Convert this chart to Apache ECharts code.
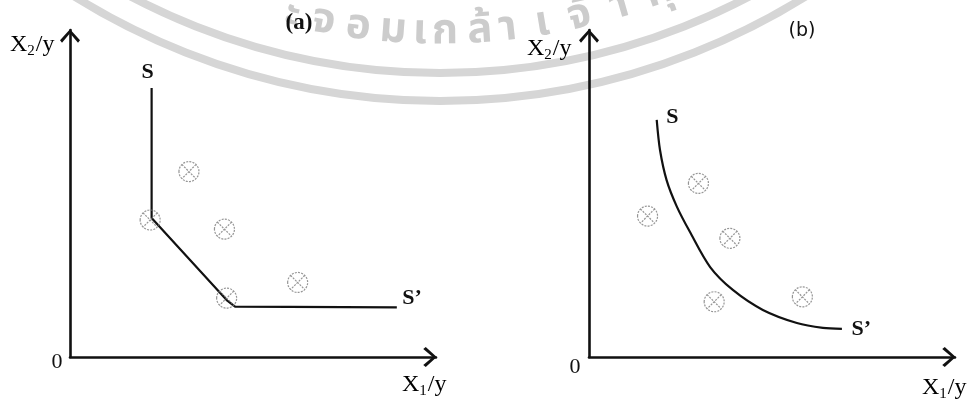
<!DOCTYPE html>
<html>
<head>
<meta charset="utf-8">
<script src="https://cdn.jsdelivr.net/npm/echarts@6/dist/echarts.min.js"></script>
<style>
  html, body { margin: 0; padding: 0; background: #fff; }
  #chart { width: 973px; height: 399px; }
</style>
</head>
<body>
<div id="chart"></div>
<script>
  // (a) piecewise linear frontier S-S' and the observed firms
  var frontierA = [[22.3, 82.3], [22.3, 42.5], [42.8, 17.4], [45.1, 15.4], [89.3, 15.2]]
  var firmsA = [[21.9, 41.9], [42.8, 18.0], [32.5, 56.7], [42.2, 39.1], [62.2, 22.8]]
  // (b) smooth frontier S-S' and the observed firms
  var frontierB = [[18.5, 72.5], [19.4, 63.3], [21.2, 54.1], [24.0, 46.0], [27.6, 38.2], [33.1, 27.5],
    [39.3, 20.5], [47.5, 14.4], [56.8, 10.4], [63.9, 8.9], [69.1, 8.6]]
  var firmsB = [[16.0, 43.1], [29.9, 53.1], [38.5, 36.3], [34.2, 16.9], [58.3, 18.4]]
  var endLabels = ['S', 'S’']
  var panelTitles = ['(a)', '(b)']
  // watermark (scan artefact)
  var wmChars = ['ะ', 'จ', 'อ', 'ม', 'เ', 'ก', 'ล้', 'า', 'เ', 'จ้', 'า', 'คุ']
  var wmX = [292, 323, 358, 393, 420, 445, 480, 508, 543, 580, 620, 660]

  var serif = 'Liberation Serif'
  var arrow = 'path://M10,0 L20,11 L18,13.5 L10,4 L2,13.5 L0,11 Z'
  var otimes = 'path://M0,10 A10,10 0 1,1 20,10 A10,10 0 1,1 0,10 Z M2.93,2.93 L17.07,17.07 M17.07,2.93 L2.93,17.07'

  function axis () {
    return {
      type: 'value',
      min: 0,
      max: 100,
      axisLine: {
        show: true,
        symbol: ['none', arrow],
        symbolSize: [20, 14],
        symbolOffset: [0, -6],
        lineStyle: { color: '#111', width: 2.6 }
      },
      axisTick: { show: false },
      axisLabel: { show: false },
      splitLine: { show: false }
    }
  }

  function frontier (data, idx, smooth, lbl) {
    var last = data.length - 1
    return {
      type: 'line',
      xAxisIndex: idx,
      yAxisIndex: idx,
      smooth: smooth,
      symbol: 'circle',
      symbolSize: 1,
      itemStyle: { color: 'rgba(0,0,0,0)' },
      lineStyle: { color: '#111', width: 2.2 },
      z: 3,
      data: data.map(function (d, i) {
        var item = { value: d }
        if (i === 0) item.label = Object.assign({ show: true, formatter: endLabels[0] }, lbl[0])
        if (i === last) item.label = Object.assign({ show: true, formatter: endLabels[1] }, lbl[1])
        return item
      }),
      label: { color: '#111', fontFamily: serif, fontWeight: 'bold', fontSize: 22 }
    }
  }

  function firms (data, idx) {
    return {
      type: 'scatter',
      xAxisIndex: idx,
      yAxisIndex: idx,
      symbol: otimes,
      symbolSize: 20,
      itemStyle: { color: 'rgba(255,255,255,0)', borderColor: '#7a7a7a', borderWidth: 1.2, borderType: [2, 1.2] },
      z: 4,
      data: data
    }
  }

  function axisName (sub, x, y) {
    return {
      type: 'text',
      x: x,
      y: y,
      z: 100,
      style: {
        text: '{m|X}{s|' + sub + '}{m|/y}',
        align: 'left',
        verticalAlign: 'middle',
        rich: {
          m: { fontFamily: serif, fontSize: 24, color: '#111' },
          s: { fontFamily: serif, fontSize: 15, color: '#111', padding: [13, 1, 0, 0] }
        }
      }
    }
  }

  function plainText (txt, x, y, family, size, weight) {
    return {
      type: 'text',
      x: x,
      y: y,
      z: 100,
      style: {
        text: txt,
        align: 'center',
        verticalAlign: 'middle',
        fill: '#111',
        fontFamily: family,
        fontSize: size,
        fontWeight: weight
      }
    }
  }

  var graphics = [
    { type: 'circle', silent: true, z: -10, shape: { cx: 440, cy: -590, r: 663 }, style: { fill: 'none', stroke: '#d6d6d6', lineWidth: 8 } },
    { type: 'circle', silent: true, z: -10, shape: { cx: 440, cy: -590, r: 691 }, style: { fill: 'none', stroke: '#d6d6d6', lineWidth: 8 } }
  ]
  wmChars.forEach(function (c, i) {
    var dx = wmX[i] - 440
    graphics.push({
      type: 'text',
      silent: true,
      z: -10,
      x: wmX[i],
      y: -590 + Math.sqrt(625 * 625 - dx * dx),
      rotation: Math.atan(dx / 625),
      style: {
        text: c,
        align: 'center',
        verticalAlign: 'middle',
        fill: '#cccccc',
        fontFamily: 'Noto Sans Thai, Noto Sans, sans-serif',
        fontSize: 42,
        fontWeight: 'bold'
      }
    })
  })
  graphics.push(
    plainText(panelTitles[0], 299, 23, serif, 23, 'bold'),
    plainText(panelTitles[1], 802, 31, 'DejaVu Sans', 19, 'normal'),
    axisName('2', 10, 45),
    axisName('1', 402, 385),
    axisName('2', 527, 49),
    axisName('1', 922, 388),
    plainText('0', 57, 362, serif, 22, 'normal'),
    plainText('0', 575, 367, serif, 22, 'normal')
  )

  var chart = echarts.init(document.getElementById('chart'))
  chart.setOption({
    backgroundColor: '#fff',
    animation: false,
    grid: [
      { left: 70, top: 30, width: 366, height: 327, outerBoundsMode: 'none' },
      { left: 589, top: 30, width: 366, height: 327, outerBoundsMode: 'none' }
    ],
    xAxis: [Object.assign(axis(), { gridIndex: 0 }), Object.assign(axis(), { gridIndex: 1 })],
    yAxis: [Object.assign(axis(), { gridIndex: 0 }), Object.assign(axis(), { gridIndex: 1 })],
    series: [
      frontier(frontierA, 0, false, [
        { position: 'top', distance: 4, offset: [-4, 0] },
        { position: 'right', distance: 5, offset: [0, -9] }
      ]),
      firms(firmsA, 0),
      frontier(frontierB, 1, 0.3, [
        { position: 'right', distance: 9, offset: [0, -3] },
        { position: 'right', distance: 9, offset: [0, 0] }
      ]),
      firms(firmsB, 1)
    ],
    graphic: graphics
  })
</script>
</body>
</html>
